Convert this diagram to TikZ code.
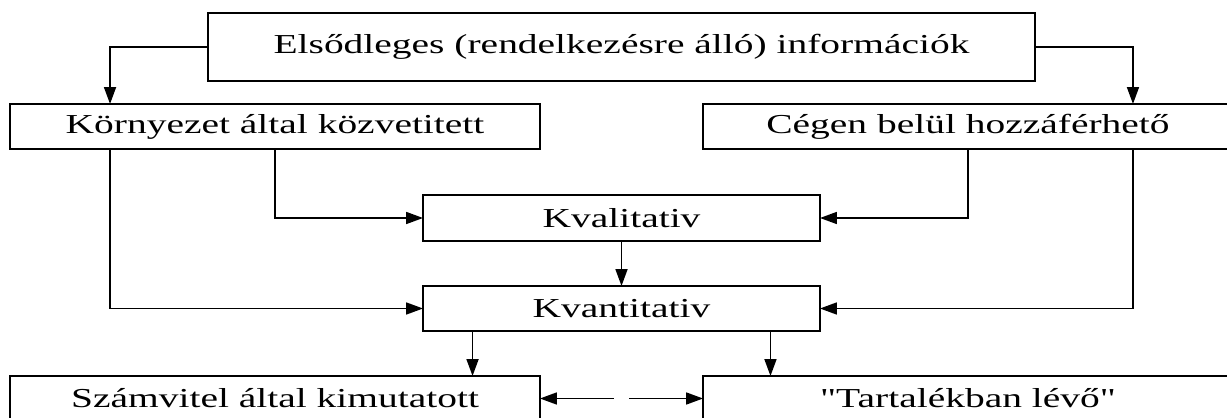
\documentclass[tikz,border=0pt]{standalone}
\usepackage{fontspec}
\setmainfont{Liberation Serif}[Ligatures=TeXOff]
\usepackage{graphicx}
\usetikzlibrary{arrows.meta}
\newcommand{\wide}[1]{\scalebox{1.44}[1]{#1}}

\begin{document}
\begin{tikzpicture}[x=0.02cm, y=-0.02cm, >={Triangle[length=0.34cm,width=0.24cm]},
    box/.style={draw, line width=1pt, inner sep=0pt, outer sep=0pt,
        minimum width=10.6cm, minimum height=0.9cm, font=\fontsize{15.6}{18}\selectfont},
    link/.style={->, line width=1pt}]
    \clip (0,0) rectangle (1227,418);

    \node[box, minimum width=16.54cm, minimum height=1.36cm] (prim) at (621.5,47) {\wide{Elsődleges (rendelkezésre álló) információk}};
    \node[box] (env) at (275,126.5) {\wide{Környezet által közvetitett}};
    \node[box] (firm) at (968,126.5) {\wide{Cégen belül hozzáférhető}};
    \node[box, minimum width=7.94cm, minimum height=0.92cm] (kval) at (621.5,218) {\wide{Kvalitativ}};
    \node[box, minimum width=7.94cm] (kvant) at (621.5,308.5) {\wide{Kvantitativ}};
    \node[box] (szam) at (275,398.5) {\wide{Számvitel által kimutatott}};
    \node[box] (tart) at (968,398.5) {\wide{"Tartalékban lévő"}};

    \draw[link] (prim.west) -| ([xshift=2cm]env.north west);
    \draw[link] (prim.east) -| ([xshift=8.6cm]firm.north west);
    \draw[link] (env.south) |- (kval.west);
    \draw[link] (firm.south) |- (kval.east);
    \draw[link] (kval.south) -- (kvant.north);
    \draw[link] ([xshift=2cm]env.south west) |- (kvant.west);
    \draw[link] ([xshift=8.6cm]firm.south west) |- (kvant.east);
    \draw[link] ([xshift=-2.98cm]kvant.south) -- ([xshift=-2.98cm]kvant.south |- szam.north);
    \draw[link] ([xshift=2.98cm]kvant.south) -- ([xshift=2.98cm]kvant.south |- tart.north);

    \coordinate (gapL) at ([xshift=1.48cm]szam.east);
    \coordinate (gapR) at ([xshift=-1.48cm]tart.west);
    \draw[link] (gapL) -- (szam.east);
    \draw[link] (gapR) -- (tart.west);
\end{tikzpicture}
\end{document}
